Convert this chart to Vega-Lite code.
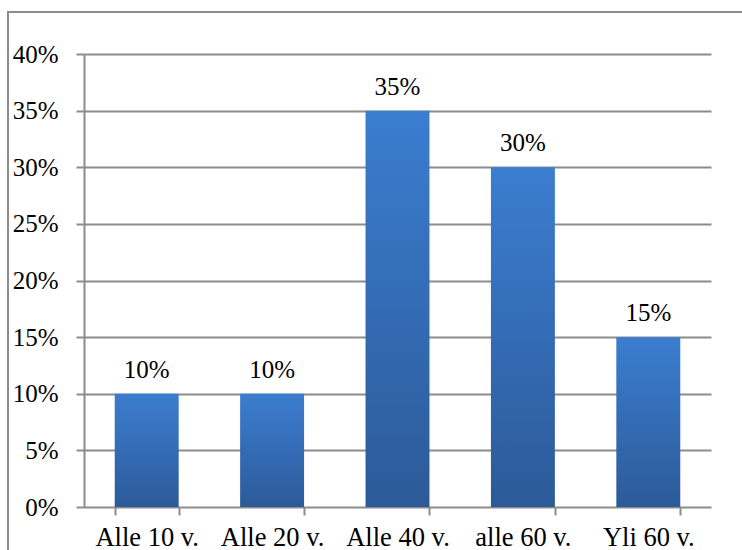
{
  "$schema": "https://vega.github.io/schema/vega-lite/v6.json",
  "width": 627,
  "height": 453,
  "autosize": {"type": "none"},
  "padding": {"left": 84, "top": 54, "right": 31, "bottom": 43},
  "background": "white",
  "config": {
    "view": {"stroke": null},
    "font": "Liberation Serif"
  },
  "data": {
    "values": [
      {"ika": "Alle 10 v.", "osuus": 0.10},
      {"ika": "Alle 20 v.", "osuus": 0.10},
      {"ika": "Alle 40 v.", "osuus": 0.35},
      {"ika": "alle 60 v.", "osuus": 0.30},
      {"ika": "Yli 60 v.", "osuus": 0.15}
    ]
  },
  "encoding": {
    "x": {
      "field": "ika",
      "type": "nominal",
      "sort": null,
      "scale": {"paddingInner": 0.49, "paddingOuter": 0.245},
      "axis": {
        "title": null,
        "labelAngle": 0,
        "labelFont": "Liberation Serif",
        "labelFontSize": 26.5,
        "labelColor": "black",
        "labelPadding": 9,
        "domain": false,
        "ticks": true,
        "tickBand": "extent",
        "tickColor": "#8c8c8c",
        "tickWidth": 2,
        "tickSize": 8,
        "grid": false
      }
    },
    "y": {
      "field": "osuus",
      "type": "quantitative",
      "scale": {"domain": [0, 0.4], "nice": false},
      "axis": {
        "title": null,
        "format": ".0%",
        "values": [0, 0.05, 0.1, 0.15, 0.2, 0.25, 0.3, 0.35, 0.4],
        "labelFont": "Liberation Serif",
        "labelFontSize": 25,
        "labelColor": "black",
        "labelPadding": 18,
        "domain": true,
        "domainColor": "#8c8c8c",
        "domainWidth": 2,
        "ticks": true,
        "tickColor": "#8c8c8c",
        "tickWidth": 2,
        "tickSize": 8,
        "grid": true,
        "gridColor": "#8c8c8c",
        "gridWidth": 2,
        "gridOpacity": 1
      }
    }
  },
  "layer": [
    {
      "mark": {"type": "rect", "filled": false, "stroke": "#8c8c8c", "strokeWidth": 2, "clip": false},
      "data": {"values": [{"frame": "chart"}]},
      "encoding": {
        "x": {"value": -76},
        "x2": {"value": 1000},
        "y": {"value": -42},
        "y2": {"value": 800}
      }
    },
    {
      "mark": {
        "type": "bar",
        "color": {
          "gradient": "linear",
          "x1": 0, "y1": 0, "x2": 0, "y2": 1,
          "stops": [
            {"offset": 0, "color": "#3b7dd0"},
            {"offset": 1, "color": "#2c5a98"}
          ]
        }
      }
    },
    {
      "mark": {"type": "text", "baseline": "bottom", "dy": -11, "fontSize": 25, "font": "Liberation Serif", "color": "black"},
      "encoding": {
        "text": {"field": "osuus", "type": "quantitative", "format": ".0%"}
      }
    }
  ]
}
